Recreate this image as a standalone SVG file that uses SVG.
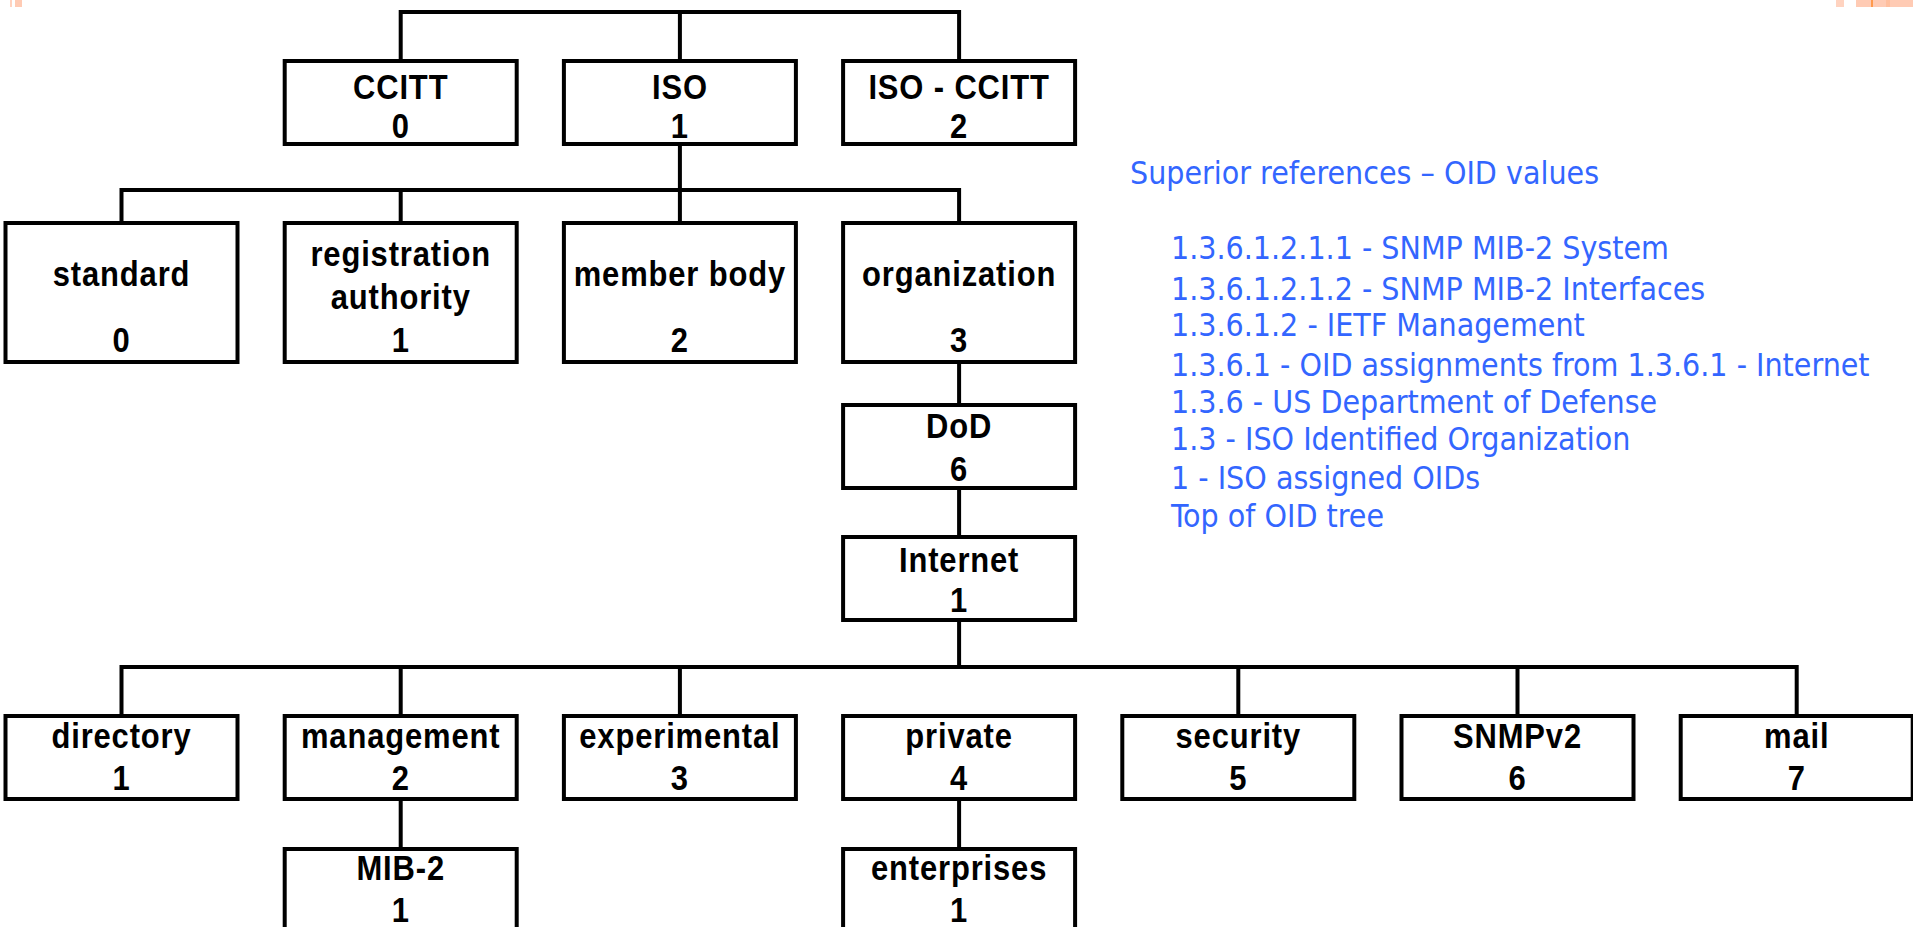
<svg xmlns="http://www.w3.org/2000/svg" width="1913" height="927" viewBox="0 0 1913 927">
<style>
.box{fill:#fff;stroke:#000;stroke-width:4}
.lbl{font-family:"Liberation Sans",Arial,sans-serif;font-weight:bold;font-size:36px;letter-spacing:1px;fill:#000;text-anchor:middle}
.con{fill:none;stroke:#000;stroke-width:4;stroke-linejoin:miter;stroke-linecap:square}
.ref{font-family:"DejaVu Sans Condensed","DejaVu Sans",sans-serif;font-stretch:condensed;font-size:31.8px;fill:#3366ff}
</style>
<rect width="1913" height="927" fill="#fff"/>
<g id="marks">
<rect x="10" y="0" width="2" height="7" fill="#ffd3c0"/>
<rect x="15" y="0" width="7" height="7" fill="#ffcbb4"/>
<rect x="1836" y="0" width="8" height="7" fill="#ffd3c0"/>
<rect x="1856" y="0" width="15" height="7" fill="#ffcbb4"/>
<rect x="1871" y="0" width="2" height="7" fill="#ff9a4c"/>
<rect x="1873" y="0" width="13" height="7" fill="#ffcbb4"/>
<rect x="1886" y="0" width="4" height="7" fill="#ffbf9e"/>
<rect x="1890" y="0" width="23" height="7" fill="#ffcbb4"/>
</g>
<g id="connectors">
<path class="con" d="M400.7,61 V12 H959.1 V61 M679.9,12 V61"/>
<path class="con" d="M679.9,144 V190 M121.5,223 V190 H959.1 V223 M400.7,190 V223 M679.9,190 V223"/>
<path class="con" d="M959.1,362 V405 M959.1,488 V537"/>
<path class="con" d="M959.1,620 V667 M121.5,716 V667 H1796.7 V716 M400.7,667 V716 M679.9,667 V716 M1238.3,667 V716 M1517.5,667 V716"/>
<path class="con" d="M400.7,799 V849 M959.1,799 V849"/>
</g>
<g id="n-ccitt"><rect class="box" x="284.7" y="61" width="232" height="83"/><text class="lbl" transform="translate(400.7,99) scale(0.86,1)">CCITT</text><text class="lbl" transform="translate(400.7,138) scale(0.86,1)">0</text></g>
<g id="n-iso"><rect class="box" x="563.9" y="61" width="232" height="83"/><text class="lbl" transform="translate(679.9,99) scale(0.86,1)">ISO</text><text class="lbl" transform="translate(679.9,138) scale(0.86,1)">1</text></g>
<g id="n-isoccitt"><rect class="box" x="843.1" y="61" width="232" height="83"/><text class="lbl" transform="translate(959.1,99) scale(0.86,1)">ISO - CCITT</text><text class="lbl" transform="translate(959.1,138) scale(0.86,1)">2</text></g>
<g id="n-standard"><rect class="box" x="5.5" y="223" width="232" height="139"/><text class="lbl" transform="translate(121.5,286) scale(0.86,1)">standard</text><text class="lbl" transform="translate(121.5,352) scale(0.86,1)">0</text></g>
<g id="n-regauth"><rect class="box" x="284.7" y="223" width="232" height="139"/><text class="lbl" transform="translate(400.7,266) scale(0.86,1)">registration</text><text class="lbl" transform="translate(400.7,309) scale(0.86,1)">authority</text><text class="lbl" transform="translate(400.7,352) scale(0.86,1)">1</text></g>
<g id="n-member"><rect class="box" x="563.9" y="223" width="232" height="139"/><text class="lbl" transform="translate(679.9,286) scale(0.86,1)">member body</text><text class="lbl" transform="translate(679.9,352) scale(0.86,1)">2</text></g>
<g id="n-org"><rect class="box" x="843.1" y="223" width="232" height="139"/><text class="lbl" transform="translate(959.1,286) scale(0.86,1)">organization</text><text class="lbl" transform="translate(959.1,352) scale(0.86,1)">3</text></g>
<g id="n-dod"><rect class="box" x="843.1" y="405" width="232" height="83"/><text class="lbl" transform="translate(959.1,438) scale(0.86,1)">DoD</text><text class="lbl" transform="translate(959.1,481) scale(0.86,1)">6</text></g>
<g id="n-internet"><rect class="box" x="843.1" y="537" width="232" height="83"/><text class="lbl" transform="translate(959.1,572) scale(0.86,1)">Internet</text><text class="lbl" transform="translate(959.1,612) scale(0.86,1)">1</text></g>
<g id="n-directory"><rect class="box" x="5.5" y="716" width="232" height="83"/><text class="lbl" transform="translate(121.5,748) scale(0.86,1)">directory</text><text class="lbl" transform="translate(121.5,790) scale(0.86,1)">1</text></g>
<g id="n-management"><rect class="box" x="284.7" y="716" width="232" height="83"/><text class="lbl" transform="translate(400.7,748) scale(0.86,1)">management</text><text class="lbl" transform="translate(400.7,790) scale(0.86,1)">2</text></g>
<g id="n-experimental"><rect class="box" x="563.9" y="716" width="232" height="83"/><text class="lbl" transform="translate(679.9,748) scale(0.86,1)">experimental</text><text class="lbl" transform="translate(679.9,790) scale(0.86,1)">3</text></g>
<g id="n-private"><rect class="box" x="843.1" y="716" width="232" height="83"/><text class="lbl" transform="translate(959.1,748) scale(0.86,1)">private</text><text class="lbl" transform="translate(959.1,790) scale(0.86,1)">4</text></g>
<g id="n-security"><rect class="box" x="1122.3" y="716" width="232" height="83"/><text class="lbl" transform="translate(1238.3,748) scale(0.86,1)">security</text><text class="lbl" transform="translate(1238.3,790) scale(0.86,1)">5</text></g>
<g id="n-snmpv2"><rect class="box" x="1401.5" y="716" width="232" height="83"/><text class="lbl" transform="translate(1517.5,748) scale(0.86,1)">SNMPv2</text><text class="lbl" transform="translate(1517.5,790) scale(0.86,1)">6</text></g>
<g id="n-mail"><rect class="box" x="1680.7" y="716" width="232" height="83"/><text class="lbl" transform="translate(1796.7,748) scale(0.86,1)">mail</text><text class="lbl" transform="translate(1796.7,790) scale(0.86,1)">7</text></g>
<g id="n-mib2"><rect class="box" x="284.7" y="849" width="232" height="90"/><text class="lbl" transform="translate(400.7,880) scale(0.86,1)">MIB-2</text><text class="lbl" transform="translate(400.7,922) scale(0.86,1)">1</text></g>
<g id="n-enterprises"><rect class="box" x="843.1" y="849" width="232" height="90"/><text class="lbl" transform="translate(959.1,880) scale(0.86,1)">enterprises</text><text class="lbl" transform="translate(959.1,922) scale(0.86,1)">1</text></g>
<g id="references">
<text class="ref" x="1130" y="184">Superior references – OID values</text>
<text class="ref" x="1171" y="259">1.3.6.1.2.1.1 - SNMP MIB-2 System</text>
<text class="ref" x="1171" y="300">1.3.6.1.2.1.2 - SNMP MIB-2 Interfaces</text>
<text class="ref" x="1171" y="336">1.3.6.1.2 - IETF Management</text>
<text class="ref" x="1171" y="376">1.3.6.1 - OID assignments from 1.3.6.1 - Internet</text>
<text class="ref" x="1171" y="413">1.3.6 - US Department of Defense</text>
<text class="ref" x="1171" y="450">1.3 - ISO Identified Organization</text>
<text class="ref" x="1171" y="489">1 - ISO assigned OIDs</text>
<text class="ref" x="1171" y="527">Top of OID tree</text>
</g>
</svg>
